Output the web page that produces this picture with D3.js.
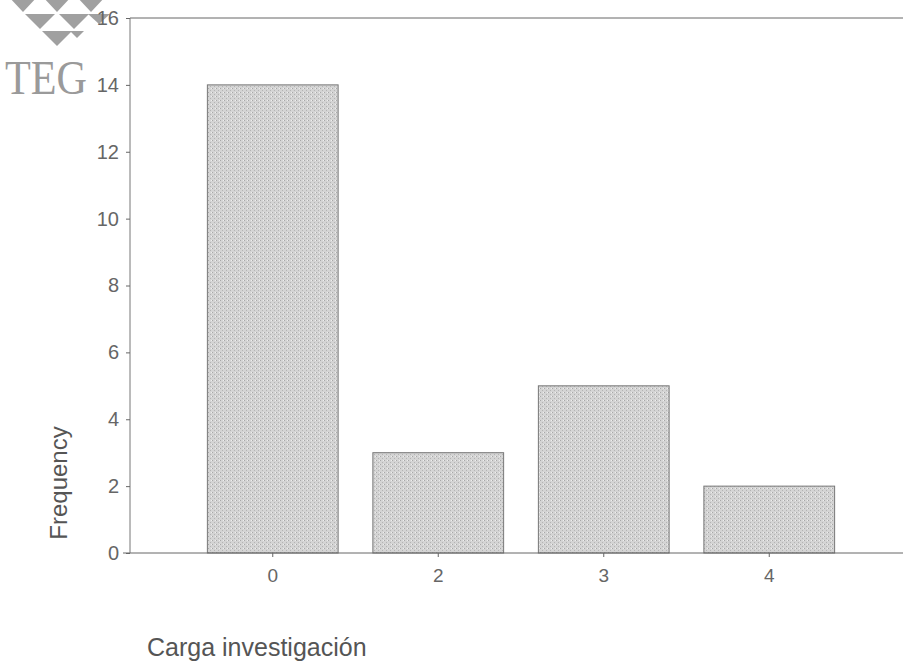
<!DOCTYPE html>
<html><head><meta charset="utf-8">
<script src="https://cdn.jsdelivr.net/npm/d3@7"></script>
<style>body{margin:0;background:#fff}svg{display:block}</style>
</head><body>
<script>
const categories = ["0","2","3","4"];
const frequencies = [14, 3, 5, 2];
const yTicks = [0,2,4,6,8,10,12,14,16];
const xTitle = "Carga investigación";
const yTitle = "Frequency";

const W=903,H=666;
const svg=d3.select("body").append("svg").attr("width",W).attr("height",H);

const y=d3.scaleLinear().domain([0,16]).range([553,18]);
const x=d3.scaleBand().domain(categories).range([190,852]).paddingInner(0.21).paddingOuter(0.105);

// stipple pattern
const defs=svg.append("defs");
const pat=defs.append("pattern").attr("id","stip").attr("width",4).attr("height",4).attr("patternUnits","userSpaceOnUse");
pat.append("rect").attr("width",4).attr("height",4).attr("fill","#d4d4d4");
pat.append("rect").attr("x",0).attr("y",0).attr("width",1).attr("height",1).attr("fill","#a8a8a8");
pat.append("rect").attr("x",2).attr("y",2).attr("width",1).attr("height",1).attr("fill","#b4b4b4");
pat.append("rect").attr("x",3).attr("y",0).attr("width",1).attr("height",1).attr("fill","#eeeeee");

// logo (watermark)
const logo=svg.append("g").attr("fill","#a0a0a0");
const tri=[[8,-4,38,-4,23,12],[42,-4,72,-4,57,12],[76,-4,106,-4,91,12],
           [25,14,55,14,40,29],[59,14,89,14,74,29],[88,14,110,14,99,24],
           [42,31,72,31,57,46],[70,31,84,31,77,38]];
tri.forEach(t=>logo.append("path").attr("d",`M${t[0]},${t[1]}L${t[2]},${t[3]}L${t[4]},${t[5]}Z`));
svg.append("text").attr("x",5).attr("y",94).attr("font-family","Liberation Serif, serif").attr("font-size",48)
 .attr("textLength",82).attr("lengthAdjust","spacingAndGlyphs").attr("fill","#9a9a9a").text("TEG");

// bars
svg.append("g").selectAll("rect").data(frequencies).join("rect")
 .attr("x",(d,i)=>x(categories[i])).attr("width",x.bandwidth())
 .attr("y",d=>y(d)).attr("height",d=>y(0)-y(d))
 .attr("fill","url(#stip)").attr("stroke","#777").attr("stroke-width",1);

// frame lines
svg.append("line").attr("x1",130).attr("x2",903).attr("y1",18).attr("y2",18).attr("stroke","#666");
svg.append("line").attr("x1",123).attr("x2",903).attr("y1",553).attr("y2",553).attr("stroke","#666");

// y axis
const ya=svg.append("g").attr("transform","translate(130,0)")
 .call(d3.axisLeft(y).tickValues(yTicks).tickSize(4).tickPadding(7));
ya.select(".domain").attr("stroke","#777").attr("d","M0,18V553");
ya.selectAll(".tick line").attr("stroke","#666");
ya.selectAll("text").attr("font-family","Liberation Sans, Arial, sans-serif").attr("font-size",20).attr("fill","#666");

// x axis
const xa=svg.append("g").attr("transform","translate(0,553)")
 .call(d3.axisBottom(x).tickSize(4).tickPadding(12));
xa.select(".domain").remove();
xa.selectAll(".tick line").attr("stroke","#666");
xa.selectAll("text").attr("font-family","Liberation Sans, Arial, sans-serif").attr("font-size",19).attr("fill","#666");

svg.append("text").attr("transform","translate(67,483) rotate(-90)").attr("text-anchor","middle")
 .attr("font-family","Liberation Sans, Arial, sans-serif").attr("font-size",24).attr("fill","#555").text(yTitle);
svg.append("text").attr("x",147).attr("y",656)
 .attr("font-family","Liberation Sans, Arial, sans-serif").attr("font-size",25).attr("fill","#555").text(xTitle);
</script>
</body></html>
